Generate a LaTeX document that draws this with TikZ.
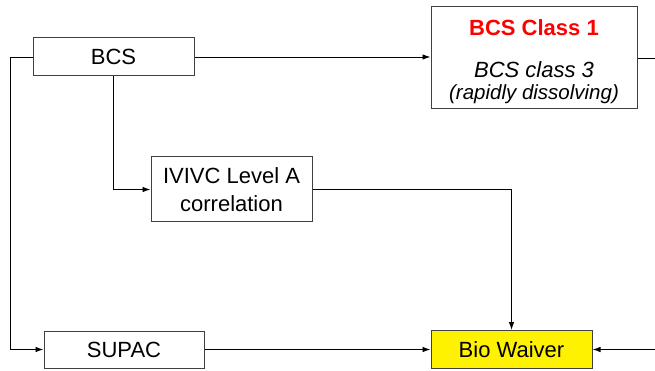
\documentclass[tikz,border=0pt]{standalone}
\usepackage{fontspec}
\setmainfont{Liberation Sans}
\usetikzlibrary{arrows.meta}
\begin{document}
\begin{tikzpicture}[x=1pt,y=-1pt,
  box/.style={draw=black!75, line width=1pt, fill=white, rectangle, inner sep=0pt,
    font=\fontsize{22}{25}\selectfont, align=center},
  txt/.style={inner sep=0pt, font=\fontsize{22}{25}\selectfont},
  conn/.style={draw=black, line width=0.9pt},
  arr/.style={conn, -{Latex[length=8pt,width=5.5pt]}}]
\useasboundingbox (0,0) rectangle (655,371);

% boxes
\node[box, minimum width=161pt, minimum height=38pt] (bcs) at (113.5,57) {BCS};
\node[box, minimum width=206pt, minimum height=102pt] (cls) at (534,58) {};
\node[txt, text=red, font=\fontsize{22}{25}\selectfont\bfseries] (cls1) at (534,28) {BCS Class 1};
\node[txt, font=\fontsize{22}{25}\selectfont\itshape] (cls3) at (534,70) {BCS class 3};
\node[txt, font=\fontsize{20.5}{24}\selectfont\itshape] (rapid) at (534,94.5) {(rapidly dissolving)};
\node[box, minimum width=161pt, minimum height=65pt] (ivivc) at (231.5,189.5)
  {IVIVC Level A\\[3pt]correlation};
\node[box, minimum width=160pt, minimum height=37pt] (supac) at (124,349.5) {SUPAC};
\node[box, fill=yellow, minimum width=161pt, minimum height=38pt] (bio) at (511.5,349.5) {Bio Waiver};

% free ends at the right edge
\coordinate (outA) at (655,58);
\coordinate (inB) at (655,349.5);

% connectors
\draw[arr] (bcs.west) -- (10,57) |- (supac.west);
\draw[arr] (bcs.south) |- (ivivc.west);
\draw[arr] (bcs.east) -- (cls.west |- bcs.east);
\draw[conn] (cls.east |- outA) -- (outA);
\draw[arr] (ivivc.east) -| (bio.north);
\draw[arr] (supac.east) -- (bio.west);
\draw[arr] (inB) -- (bio.east);
\end{tikzpicture}
\end{document}
